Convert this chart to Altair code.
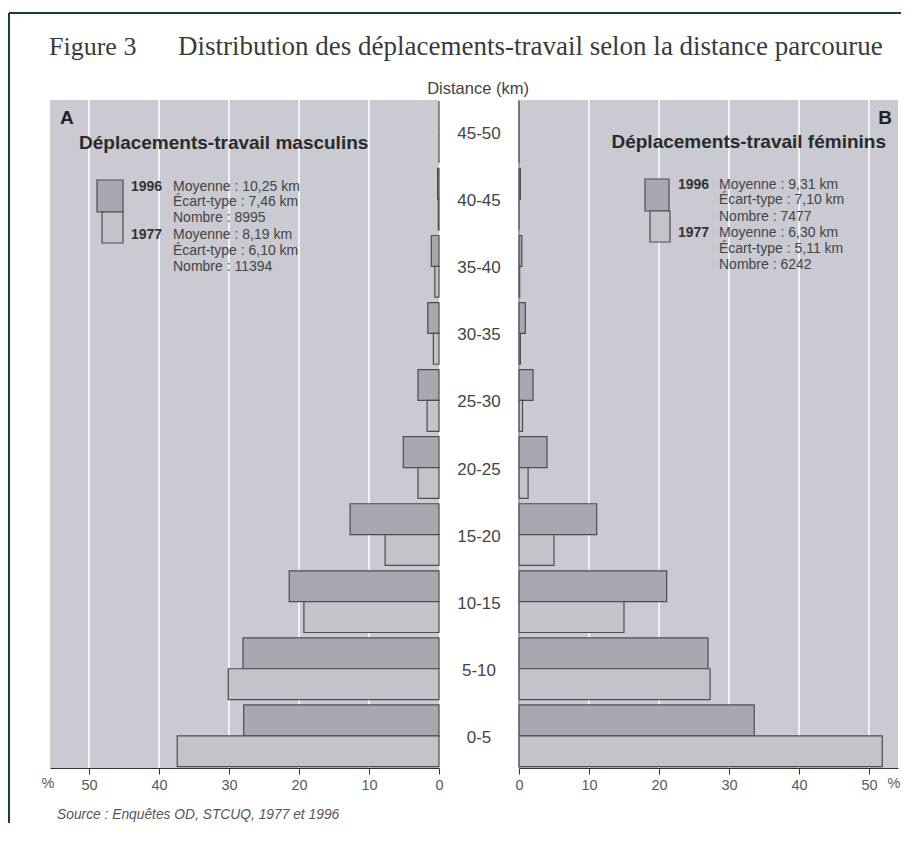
import altair as alt
import pandas as pd

# ---------------- data ----------------
categories = ["45-50", "40-45", "35-40", "30-35", "25-30", "20-25", "15-20", "10-15", "5-10", "0-5"]
years = ["1996", "1977"]
# values listed in the same order as categories (top to bottom), in %
men_1996 = [0.0, 0.2, 1.1, 1.6, 3.0, 5.1, 12.7, 21.4, 28.0, 27.9]
men_1977 = [0.0, 0.1, 0.6, 0.8, 1.7, 3.0, 7.7, 19.3, 30.1, 37.4]
women_1996 = [0.0, 0.2, 0.4, 0.9, 2.0, 4.0, 11.1, 21.1, 27.0, 33.6]
women_1977 = [0.0, 0.0, 0.1, 0.2, 0.5, 1.3, 5.0, 15.0, 27.3, 51.9]
tick_values = [0, 10, 20, 30, 40, 50]
grid_values = [10, 20, 30, 40, 50]

men_stats_1996 = ["Moyenne : 10,25 km", "Écart-type : 7,46 km", "Nombre : 8995"]
men_stats_1977 = ["Moyenne : 8,19 km", "Écart-type : 6,10 km", "Nombre : 11394"]
women_stats_1996 = ["Moyenne : 9,31 km", "Écart-type : 7,10 km", "Nombre : 7477"]
women_stats_1977 = ["Moyenne : 6,30 km", "Écart-type : 5,11 km", "Nombre : 6242"]

title_fig = "Figure 3"
title_main = "Distribution des déplacements-travail selon la distance parcourue"
axis_title = "Distance (km)"
panel_a = "Déplacements-travail masculins"
panel_b = "Déplacements-travail féminins"
source = "Source : Enquêtes OD, STCUQ, 1977 et 1996"

# ---------------- tables ----------------
rows = []
for i, c in enumerate(categories):
    rows.append(dict(cat=c, year="1996", v=men_1996[i], side="M"))
    rows.append(dict(cat=c, year="1977", v=men_1977[i], side="M"))
    rows.append(dict(cat=c, year="1996", v=women_1996[i], side="F"))
    rows.append(dict(cat=c, year="1977", v=women_1977[i], side="F"))
df = pd.DataFrame(rows)
df_m = df[df.side == "M"]
df_f = df[df.side == "F"]
df_grid = pd.DataFrame({"g": grid_values})
df_cat = pd.DataFrame({"cat": categories})

# ---------------- geometry ----------------
W, H = 848, 668
L_END = 389          # left panel: 0 .. 389
R_START = 469        # right panel: 469 .. 848
PX = 7.0             # pixels per percent

BG = "#c9cad2"
DARK = "#a8a8b0"
LIGHT = "#c3c3ca"
STROKE = "#4d4d4d"
SANS = "Liberation Sans"
SERIF = "Liberation Serif"

left_scale = alt.Scale(domain=[0, L_END / PX], range=[L_END, 0], nice=False, zero=True)
right_scale = alt.Scale(domain=[0, (W - R_START) / PX], range=[R_START, W], nice=False, zero=True)
y_scale = alt.Scale(domain=categories, range=[0, H], paddingInner=0.08, paddingOuter=0.02)
yoff_scale = alt.Scale(domain=years, paddingInner=0, paddingOuter=0)
color_scale = alt.Scale(domain=years, range=[DARK, LIGHT])


def axis(orient="bottom"):
    return alt.Axis(values=tick_values, orient=orient, grid=False, title=None,
                    tickColor="#333", domainColor="#333", domainWidth=1.2,
                    tickSize=6, labelPadding=4, labelColor="#5a5a5a", labelFont=SANS,
                    labelFontSize=14.5, labelFlush=False, labelOverlap=False, format="d")


one = pd.DataFrame({"k": [0]})


def rect(x, x2, y, y2, fill, stroke=None, sw=0):
    kw = dict(fill=fill)
    if stroke:
        kw.update(stroke=stroke, strokeWidth=sw)
    return alt.Chart(one).mark_rect(**kw).encode(
        x=alt.value(x), x2=alt.value(x2), y=alt.value(y), y2=alt.value(y2))


def rule(x, x2, y, y2, color, sw):
    return alt.Chart(one).mark_rule(color=color, strokeWidth=sw).encode(
        x=alt.value(x), x2=alt.value(x2), y=alt.value(y), y2=alt.value(y2))


def label(text, x, y, size=13, weight="normal", align="left", font=SANS,
          color="#333", style="normal", baseline="middle"):
    return alt.Chart(pd.DataFrame({"t": [text]})).mark_text(
        align=align, baseline=baseline, font=font, fontSize=size, fontWeight=weight,
        fontStyle=style, color=color).encode(
        x=alt.value(x), y=alt.value(y), text="t:N")


layers = []
# panel backgrounds
layers.append(rect(0, L_END, 0, H, BG))
layers.append(rect(R_START, W, 0, H, BG))
# white grid lines
layers.append(alt.Chart(df_grid).mark_rule(color="white", strokeWidth=1.5).encode(
    x=alt.X("g:Q", scale=left_scale, axis=None), y=alt.value(0), y2=alt.value(H)))
layers.append(alt.Chart(df_grid).mark_rule(color="white", strokeWidth=1.5).encode(
    x=alt.X("g:Q", scale=right_scale, axis=None), y=alt.value(0), y2=alt.value(H)))
# bars
bar_kw = dict(stroke=STROKE, strokeWidth=1.2)
layers.append(alt.Chart(df_m).mark_bar(**bar_kw).encode(
    x=alt.X("v:Q", scale=left_scale, axis=axis()),
    y=alt.Y("cat:N", scale=y_scale, axis=None),
    yOffset=alt.YOffset("year:N", scale=yoff_scale),
    color=alt.Color("year:N", scale=color_scale, legend=None)))
layers.append(alt.Chart(df_f).mark_bar(**bar_kw).encode(
    x=alt.X("v:Q", scale=right_scale, axis=axis()),
    y=alt.Y("cat:N", scale=y_scale, axis=None),
    yOffset=alt.YOffset("year:N", scale=yoff_scale),
    color=alt.Color("year:N", scale=color_scale, legend=None)))
# right panel zero line
layers.append(rule(R_START, R_START, 0, H, "#666", 1))
# category labels in the centre column
layers.append(alt.Chart(df_cat).mark_text(font=SANS, fontSize=17, color="#444",
                                          align="center", baseline="middle", dy=2).encode(
    x=alt.value((L_END + R_START) / 2), y=alt.Y("cat:N", scale=y_scale, axis=None), text="cat:N"))

# border (dark green frame, top and left)
layers.append(rule(-41, W + 3, -87, -87, "#1d451d", 2))
layers.append(rule(-41, -41, -87, H + 55, "#1d451d", 2))

# titles
layers.append(label(title_fig, -1, -45, size=26, font=SERIF, color="#3a3a3a", baseline="alphabetic"))
layers.append(label(title_main, 128, -45, size=27, font=SERIF, color="#3a3a3a", baseline="alphabetic"))
layers.append(label(axis_title, 428, -11, size=16.5, align="center", color="#444"))

# panel labels
layers.append(label("A", 10, 18, size=19, weight="bold", color="#222"))
layers.append(label("B", 842, 18, size=19, weight="bold", align="right", color="#222"))
layers.append(label(panel_a, 29, 43, size=19, weight="bold", color="#2a2a2a"))
layers.append(label(panel_b, 836, 42, size=19, weight="bold", align="right", color="#2a2a2a"))

# legends
layers.append(rect(47, 73, 80, 112, DARK, STROKE, 1.2))
layers.append(rect(52, 73, 112, 143, LIGHT, STROKE, 1.2))
layers.append(rect(595, 619, 79, 111, DARK, STROKE, 1.2))
layers.append(rect(600, 620, 111, 142, LIGHT, STROKE, 1.2))

ly = [87, 102, 118, 135, 151, 167]
layers.append(label(years[0], 81, ly[0], size=14, weight="bold"))
layers.append(label(years[1], 81, ly[3], size=14, weight="bold"))
for i, t in enumerate(men_stats_1996 + men_stats_1977):
    layers.append(label(t, 123, ly[i], size=14, color="#444"))
ry = [85, 100, 117, 133, 149, 165]
layers.append(label(years[0], 628, ry[0], size=14, weight="bold"))
layers.append(label(years[1], 628, ry[3], size=14, weight="bold"))
for i, t in enumerate(women_stats_1996 + women_stats_1977):
    layers.append(label(t, 669, ry[i], size=14, color="#444"))

# % signs and source
layers.append(label("%", -2, 684, size=14.5, align="center", color="#5a5a5a"))
layers.append(label("%", 844, 684, size=14.5, align="center", color="#5a5a5a"))
layers.append(label(source, 7, 715, size=13.8, style="italic", color="#555"))

chart = alt.layer(*layers).resolve_scale(x="independent").resolve_axis(x="independent").properties(
    width=W, height=H,
    autosize=alt.AutoSizeParams(type="none"),
    padding={"left": 42, "top": 92, "right": 3, "bottom": 55},
    background="white",
).configure_view(stroke=None)

chart.save("out.html", embed_options={"renderer": "svg", "actions": False})
